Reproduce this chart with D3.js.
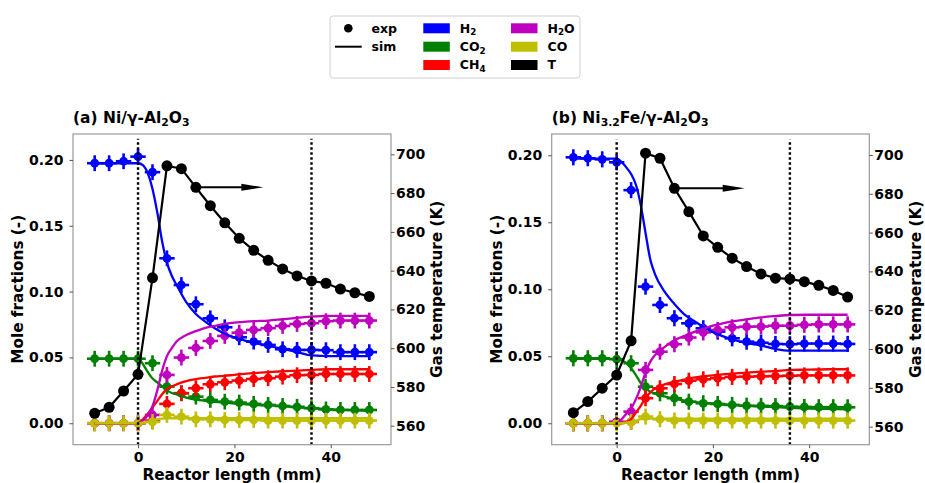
<!DOCTYPE html>
<html>
<head>
<meta charset="utf-8">
<script src="https://cdn.jsdelivr.net/npm/d3@7/dist/d3.min.js"></script>
<style>
  body { margin: 0; background: #fff; }
  svg { display: block; font-family: "DejaVu Sans", sans-serif; font-weight: bold; }
</style>
</head>
<body>
<svg id="chart" width="925" height="483"></svg>
<script>
// Measurement positions (mm) and simulation grid (mm)
var expX = [-9, -6, -3, 0, 3, 6, 9, 12, 15, 18, 21, 24, 27, 30, 33, 36, 39, 42, 45, 48];
var simX = [-9, 0, 1, 2, 3, 4, 5, 6, 7, 8, 10, 12, 14, 16, 18, 20, 22, 24, 27, 30, 33, 36, 40, 44, 48];

// (a) Ni/γ-Al2O3 - experiment
var expH2_a  = [0.1975, 0.1975, 0.199, 0.2025, 0.1907, 0.1253, 0.105, 0.0904, 0.0797, 0.0729, 0.0653, 0.062, 0.0595, 0.0562, 0.0557, 0.0557, 0.0555, 0.054, 0.054, 0.054];
var expCO2_a = [0.049, 0.049, 0.049, 0.049, 0.0456, 0.0278, 0.0228, 0.0202, 0.0177, 0.0164, 0.0157, 0.0147, 0.0139, 0.0131, 0.0125, 0.0114, 0.0105, 0.0101, 0.0101, 0.0101];
var expCH4_a = [0, 0, 0, 0, 0.002, 0.0147, 0.0228, 0.0266, 0.0296, 0.0311, 0.0324, 0.0336, 0.0342, 0.0354, 0.0365, 0.0367, 0.0374, 0.0374, 0.0374, 0.0374];
var expH2O_a = [0, 0, 0, 0, 0.0063, 0.0367, 0.0499, 0.0572, 0.0625, 0.0663, 0.0688, 0.0709, 0.0722, 0.0739, 0.0754, 0.076, 0.0775, 0.078, 0.078, 0.078];
var expCO_a  = [0, 0, 0, 0, 0.001, 0.0063, 0.005, 0.003, 0.003, 0.0025, 0.0025, 0.0025, 0.002, 0.002, 0.002, 0.002, 0.002, 0.002, 0.002, 0.002];
var expT_a   = [566.4, 569.5, 577.9, 586.5, 636.3, 694.1, 692.6, 683, 673.5, 664.7, 656.7, 650.5, 645.3, 640.9, 637.3, 634.7, 633.5, 630.5, 628.6, 626.7];

// (a) simulation
var simH2_a  = [0.1975, 0.1975, 0.196, 0.19, 0.178, 0.16, 0.138, 0.122, 0.112, 0.105, 0.092, 0.083, 0.077, 0.072, 0.068, 0.065, 0.063, 0.0612, 0.059, 0.0565, 0.054, 0.0515, 0.051, 0.051, 0.051];
var simCO2_a = [0.049, 0.049, 0.045, 0.039, 0.034, 0.031, 0.028, 0.025, 0.023, 0.022, 0.0195, 0.018, 0.017, 0.0162, 0.0156, 0.015, 0.0145, 0.014, 0.0135, 0.013, 0.012, 0.0115, 0.0105, 0.01, 0.0095];
var simCH4_a = [0, 0, 0.003, 0.007, 0.012, 0.017, 0.022, 0.026, 0.028, 0.0295, 0.032, 0.0335, 0.0345, 0.0355, 0.036, 0.0368, 0.0375, 0.038, 0.0388, 0.0395, 0.04, 0.0405, 0.041, 0.041, 0.041];
var simH2O_a = [0, 0, 0.002, 0.006, 0.013, 0.025, 0.04, 0.051, 0.057, 0.062, 0.067, 0.07, 0.0725, 0.074, 0.0755, 0.0765, 0.077, 0.0775, 0.078, 0.079, 0.08, 0.081, 0.0815, 0.0815, 0.0815];
var simCO_a  = [0, 0, 0.0005, 0.001, 0.002, 0.003, 0.0035, 0.0038, 0.0038, 0.0038, 0.0038, 0.0038, 0.0038, 0.0038, 0.0038, 0.0038, 0.0038, 0.0038, 0.0038, 0.0038, 0.0038, 0.0038, 0.0038, 0.0038, 0.0038];

// (b) Ni3.2Fe/γ-Al2O3 - experiment
var expH2_b  = [0.1985, 0.1978, 0.197, 0.1948, 0.174, 0.102, 0.0883, 0.0784, 0.0746, 0.0709, 0.0684, 0.0634, 0.0609, 0.0601, 0.0592, 0.059, 0.0595, 0.0595, 0.0595, 0.0592];
var expCO2_b = [0.0485, 0.0485, 0.0485, 0.0478, 0.0448, 0.0273, 0.0224, 0.0187, 0.0161, 0.0149, 0.0144, 0.0137, 0.0131, 0.013, 0.0128, 0.0124, 0.0122, 0.012, 0.012, 0.0119];
var expCH4_b = [0, 0, 0, 0.001, 0.001, 0.0187, 0.0261, 0.0293, 0.0318, 0.0328, 0.0336, 0.0346, 0.0348, 0.035, 0.0352, 0.0355, 0.0357, 0.0357, 0.0357, 0.0357];
var expH2O_b = [0, 0, 0, 0.001, 0.0087, 0.0398, 0.0534, 0.059, 0.064, 0.0678, 0.0696, 0.0716, 0.0721, 0.0722, 0.0728, 0.0728, 0.0735, 0.0738, 0.0738, 0.0738];
var expCO_b  = [0, 0, 0, 0, 0.001, 0.005, 0.003, 0.002, 0.002, 0.002, 0.002, 0.002, 0.002, 0.002, 0.002, 0.002, 0.002, 0.002, 0.002, 0.002];
var expT_b   = [567.2, 572.9, 579.8, 586.6, 604.2, 700.9, 698.3, 682.8, 670.8, 658.3, 652.4, 646.8, 642.5, 638.7, 636.5, 636.1, 634.7, 632.8, 630.2, 626.8];

// (b) simulation
var simH2_b  = [0.1975, 0.1975, 0.195, 0.191, 0.186, 0.178, 0.163, 0.142, 0.122, 0.111, 0.098, 0.089, 0.0815, 0.0765, 0.072, 0.068, 0.065, 0.0625, 0.0598, 0.058, 0.0555, 0.0542, 0.0542, 0.0542, 0.0542];
var simCO2_b = [0.048, 0.048, 0.047, 0.045, 0.041, 0.036, 0.03, 0.026, 0.0235, 0.022, 0.02, 0.0182, 0.017, 0.016, 0.0153, 0.0148, 0.014, 0.0135, 0.013, 0.0125, 0.012, 0.0115, 0.011, 0.0107, 0.0103];
var simCH4_b = [0, 0, 0, 0.001, 0.003, 0.008, 0.013, 0.019, 0.023, 0.026, 0.029, 0.031, 0.0325, 0.034, 0.035, 0.0358, 0.0365, 0.037, 0.0378, 0.0385, 0.039, 0.0398, 0.04, 0.0403, 0.0403];
var simH2O_b = [0, 0, 0.003, 0.007, 0.011, 0.018, 0.027, 0.038, 0.046, 0.051, 0.057, 0.062, 0.065, 0.068, 0.0705, 0.0728, 0.0745, 0.076, 0.0775, 0.079, 0.08, 0.0808, 0.081, 0.081, 0.081];
var simCO_b  = [0, 0, 0, 0.0005, 0.001, 0.002, 0.003, 0.0035, 0.0035, 0.0035, 0.0035, 0.0035, 0.0035, 0.0035, 0.0035, 0.0035, 0.0035, 0.0035, 0.0035, 0.0035, 0.0035, 0.0035, 0.0035, 0.0035, 0.0035];

// error bars (mm, mole fraction)
var xErr = 1.6, yErr = 0.006;

// axis ticks
var xTicks = [0, 20, 40];
var yTicks = [0, 0.05, 0.10, 0.15, 0.20];
var tTicks = [560, 580, 600, 620, 640, 660, 680, 700];
// catalyst bed limits (mm)
var bedLimits = [0, 36];

var species = ['H2', 'CO2', 'CH4', 'H2O', 'CO'];
var colors = {H2: '#0000ff', CO2: '#008000', CH4: '#ff0000', H2O: '#bf00bf', CO: '#bfbf00', T: '#000000'};

var svg = d3.select('#chart');
var top0 = 134, plotH = 310.7;

var panels = [
	{
		left: 73, width: 318,
		xDom: [-13.5, 52.5], yDom: [-0.0163, 0.2197], tDom: [550.2, 710.5],
		exp: {H2: expH2_a, CO2: expCO2_a, CH4: expCH4_a, H2O: expH2O_a, CO: expCO_a},
		sim: {H2: simH2_a, CO2: simCO2_a, CH4: simCH4_a, H2O: simH2O_a, CO: simCO_a},
		T: expT_a, arrow: [12, 26, 683], vTop: 708,
		title: [['(a) Ni/\u03b3-Al', 0], ['2', 1], ['O', 0], ['3', 1]]
	},
	{
		left: 551.7, width: 317.6,
		xDom: [-13.5, 52.5], yDom: [-0.016, 0.2159], tDom: [550.7, 710.8],
		exp: {H2: expH2_b, CO2: expCO2_b, CH4: expCH4_b, H2O: expH2O_b, CO: expCO_b},
		sim: {H2: simH2_b, CO2: simCO2_b, CH4: simCH4_b, H2O: simH2O_b, CO: simCO_b},
		T: expT_b, arrow: [12, 26.6, 682.8], vTop: 708,
		title: [['(b) Ni', 0], ['3.2', 1], ['Fe/\u03b3-Al', 0], ['2', 1], ['O', 0], ['3', 1]]
	}
];

// text with subscripts
function richText(sel, parts, size) {
	parts.forEach(function(p, i) {
		var t = sel.append('tspan').text(p[0]);
		if (p[1]) t.attr('font-size', size * 0.7).attr('dy', size * 0.22);
		else if (i > 0 && parts[i - 1][1]) t.attr('dy', -size * 0.22);
	});
}

function drawPanel(p) {
	var g = svg.append('g').attr('transform', 'translate(' + p.left + ',' + top0 + ')');
	var x = d3.scaleLinear().domain(p.xDom).range([0, p.width]);
	var y = d3.scaleLinear().domain(p.yDom).range([plotH, 0]);
	var yT = d3.scaleLinear().domain(p.tDom).range([plotH, 0]);

	// experimental points with error bars
	species.forEach(function(s) {
		var pts = expX.map(function(d, i) { return {x: d, v: p.exp[s][i]}; });
		var eg = g.append('g').attr('class', 'exp-' + s);
		eg.selectAll('line.xe').data(pts).enter().append('line')
			.attr('class', 'xe')
			.attr('x1', function(d) { return x(d.x - xErr); })
			.attr('x2', function(d) { return x(d.x + xErr); })
			.attr('y1', function(d) { return y(d.v); })
			.attr('y2', function(d) { return y(d.v); })
			.attr('stroke', colors[s]).attr('stroke-width', 2.6);
		eg.selectAll('line.ye').data(pts).enter().append('line')
			.attr('class', 'ye')
			.attr('x1', function(d) { return x(d.x); })
			.attr('x2', function(d) { return x(d.x); })
			.attr('y1', function(d) { return y(d.v - yErr); })
			.attr('y2', function(d) { return y(d.v + yErr); })
			.attr('stroke', colors[s]).attr('stroke-width', 2.6);
		eg.selectAll('circle').data(pts).enter().append('circle')
			.attr('cx', function(d) { return x(d.x); })
			.attr('cy', function(d) { return y(d.v); })
			.attr('r', 4.4)
			.attr('fill', colors[s]);
	});

	// simulated profiles
	var line = d3.line()
		.x(function(d) { return x(d.x); })
		.y(function(d) { return y(d.v); })
		.curve(d3.curveMonotoneX);
	species.forEach(function(s) {
		var pts = simX.map(function(d, i) { return {x: d, v: p.sim[s][i]}; });
		g.append('path').datum(pts)
			.attr('d', line)
			.attr('fill', 'none')
			.attr('stroke', colors[s])
			.attr('stroke-width', 2.3);
	});

	// bed limits
	g.selectAll('line.bed').data(bedLimits).enter().append('line')
		.attr('class', 'bed')
		.attr('x1', function(d) { return x(d); })
		.attr('x2', function(d) { return x(d); })
		.attr('y1', yT(p.tDom[0]))
		.attr('y2', yT(p.vTop))
		.attr('stroke', '#000')
		.attr('stroke-width', 2.4)
		.attr('stroke-dasharray', '2.4,2.6');

	// temperature (twin axis)
	var tPts = expX.map(function(d, i) { return {x: d, v: p.T[i]}; });
	var tLine = d3.line()
		.x(function(d) { return x(d.x); })
		.y(function(d) { return yT(d.v); });
	g.append('path').datum(tPts)
		.attr('d', tLine)
		.attr('fill', 'none')
		.attr('stroke', '#000')
		.attr('stroke-width', 2.2);
	g.selectAll('circle.T').data(tPts).enter().append('circle')
		.attr('class', 'T')
		.attr('cx', function(d) { return x(d.x); })
		.attr('cy', function(d) { return yT(d.v); })
		.attr('r', 5.5)
		.attr('fill', '#000');

	// arrow pointing to the right axis
	var ax0 = x(p.arrow[0]), ax1 = x(p.arrow[1]), ay = yT(p.arrow[2]);
	g.append('line')
		.attr('x1', ax0).attr('x2', ax1 - 18)
		.attr('y1', ay).attr('y2', ay)
		.attr('stroke', '#000').attr('stroke-width', 2);
	g.append('path')
		.attr('d', 'M' + ax1 + ',' + ay + 'L' + (ax1 - 22) + ',' + (ay - 3.5) + 'L' + (ax1 - 22) + ',' + (ay + 3.5) + 'Z')
		.attr('fill', '#000');

	// frame
	g.append('rect')
		.attr('width', p.width).attr('height', plotH)
		.attr('fill', 'none').attr('stroke', '#9a9a9a').attr('stroke-width', 1.2);

	// axes
	var axL = g.append('g').call(d3.axisLeft(y).tickValues(yTicks).tickFormat(d3.format('.2f')).tickSize(3.5).tickSizeOuter(0).tickPadding(6));
	var axR = g.append('g').attr('transform', 'translate(' + p.width + ',0)')
		.call(d3.axisRight(yT).tickValues(tTicks).tickSize(3.5).tickSizeOuter(0).tickPadding(1.5));
	var axB = g.append('g').attr('transform', 'translate(0,' + plotH + ')')
		.call(d3.axisBottom(x).tickValues(xTicks).tickSize(3.5).tickSizeOuter(0).tickPadding(4));
	[axL, axR, axB].forEach(function(a) {
		a.select('.domain').remove();
		a.selectAll('.tick line').attr('stroke', '#555');
		a.selectAll('.tick text')
			.attr('font-family', '"DejaVu Sans", sans-serif')
			.attr('font-weight', 'bold')
			.attr('font-size', 14)
			.attr('fill', '#000');
	});

	// axis titles
	g.append('text')
		.attr('transform', 'translate(-55,' + plotH / 2 + ') rotate(-90)')
		.attr('text-anchor', 'middle').attr('dy', '0.35em')
		.attr('font-size', 15.3)
		.text('Mole fractions (-)');
	g.append('text')
		.attr('transform', 'translate(' + (p.width + 46) + ',' + plotH / 2 + ') rotate(-90)')
		.attr('text-anchor', 'middle').attr('dy', '0.35em')
		.attr('font-size', 15.3)
		.text('Gas temperature (K)');
	g.append('text')
		.attr('x', p.width / 2).attr('y', plotH + 35)
		.attr('text-anchor', 'middle')
		.attr('font-size', 15.3)
		.text('Reactor length (mm)');

	// panel title
	var title = g.append('text').attr('x', 0).attr('y', -11).attr('font-size', 15.5);
	richText(title, p.title, 15.5);
}

panels.forEach(drawPanel);

// legend
var legendItems = [
	{type: 'marker', label: [['exp', 0]], col: 0, row: 0},
	{type: 'line', label: [['sim', 0]], col: 0, row: 1},
	{type: 'patch', key: 'H2', label: [['H', 0], ['2', 1]], col: 1, row: 0},
	{type: 'patch', key: 'CO2', label: [['CO', 0], ['2', 1]], col: 1, row: 1},
	{type: 'patch', key: 'CH4', label: [['CH', 0], ['4', 1]], col: 1, row: 2},
	{type: 'patch', key: 'H2O', label: [['H', 0], ['2', 1], ['O', 0]], col: 2, row: 0},
	{type: 'patch', key: 'CO', label: [['CO', 0]], col: 2, row: 1},
	{type: 'patch', key: 'T', label: [['T', 0]], col: 2, row: 2}
];
var lg = svg.append('g').attr('transform', 'translate(330,16)');
lg.append('rect')
	.attr('width', 250).attr('height', 62).attr('rx', 3)
	.attr('fill', '#fff').attr('stroke', '#d0d0d0').attr('stroke-width', 1);
var colX = [5, 93.3, 181], rowY = [12.3, 30.7, 49];
legendItems.forEach(function(it) {
	var gx = colX[it.col], gy = rowY[it.row];
	if (it.type === 'marker') {
		lg.append('circle').attr('cx', gx + 13.3).attr('cy', gy).attr('r', 4.3).attr('fill', '#000');
	} else if (it.type === 'line') {
		lg.append('line').attr('x1', gx).attr('x2', gx + 26.7).attr('y1', gy).attr('y2', gy)
			.attr('stroke', '#000').attr('stroke-width', 2);
	} else {
		lg.append('rect').attr('x', gx).attr('y', gy - 5).attr('width', 26.5).attr('height', 10)
			.attr('fill', colors[it.key]);
	}
	var t = lg.append('text').attr('x', gx + 36.5).attr('y', gy).attr('dy', '0.35em').attr('font-size', 12.5);
	richText(t, it.label, 12.5);
});
</script>
</body>
</html>
